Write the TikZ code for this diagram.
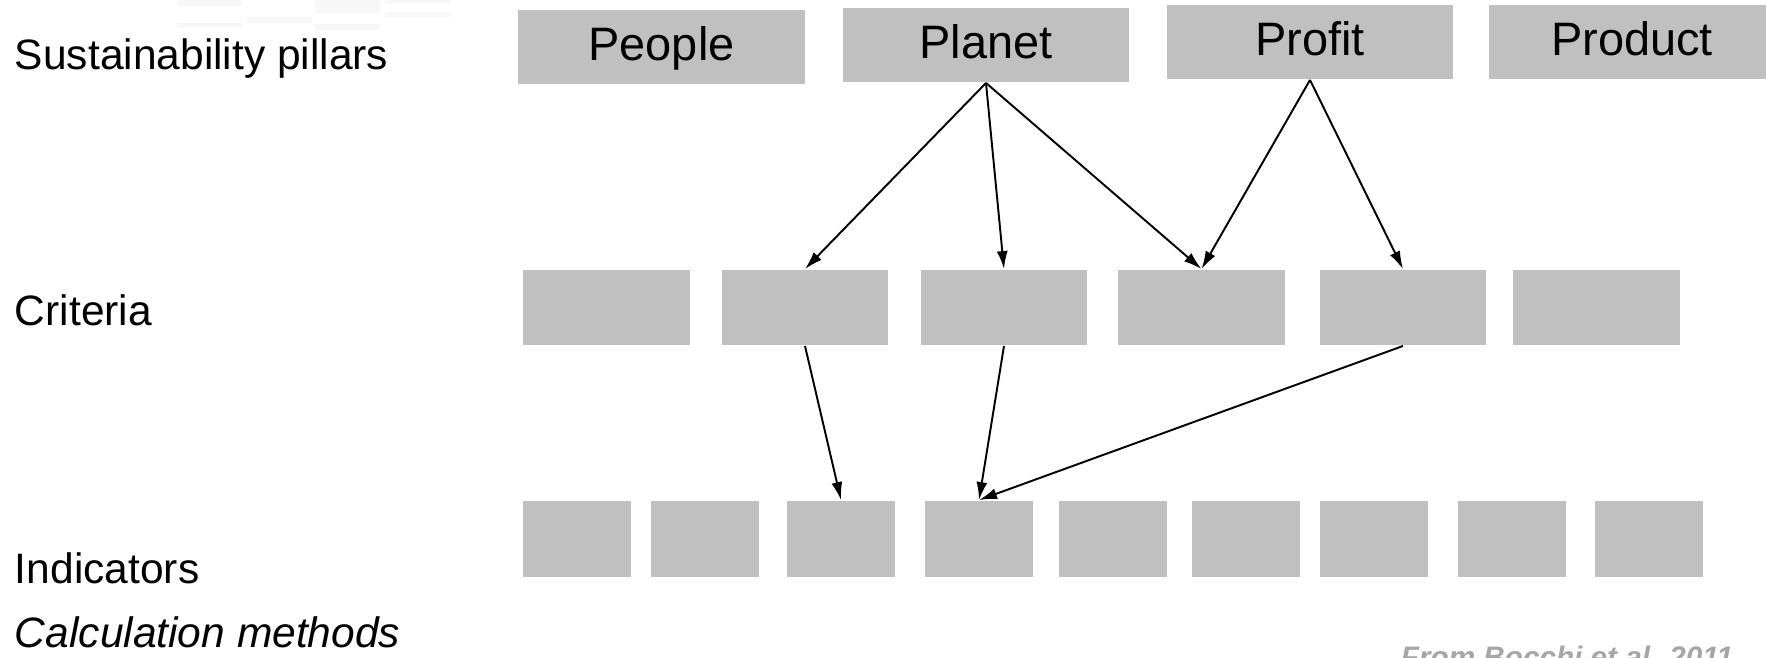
\documentclass[tikz,border=0pt]{standalone}
\usepackage{fontspec}
\setmainfont{Liberation Sans}
\usetikzlibrary{positioning,arrows.meta}
\definecolor{boxgray}{RGB}{192,192,192}
\definecolor{citegray}{RGB}{166,166,166}
\tikzstyle{pillar}=[fill=boxgray,minimum width=5.74cm,minimum height=1.48cm,
    font=\fontsize{26.7}{30}\selectfont,text height=19pt,text depth=4pt]
\tikzstyle{crit}=[fill=boxgray,minimum width=3.34cm,minimum height=1.5cm]
\tikzstyle{ind}=[fill=boxgray,minimum width=2.16cm,minimum height=1.52cm]
\tikzstyle{rowlabel}=[anchor=base west,inner sep=0pt,font=\fontsize{24.2}{28}\selectfont]
\newcommand{\newBox}[4]{\node[#3](#1) at (#4){#2};}
\newcommand{\newLink}[2]{\draw[->] (#1) -- (#2);}

\begin{document}
\begin{tikzpicture}[x=0.02cm,y=-0.02cm,
    >={Latex[length=3.6mm,width=2.2mm]},
    line width=1.1pt  %thin marks from the slide at top left
    ]
    \useasboundingbox (0,0) rectangle (1766,657);
    \fill[black!3] (177,0) rectangle (242,6) (177,23) rectangle (242,27)
        (247,17) rectangle (312,23) (315,0) rectangle (380,13)
        (315,24) rectangle (380,30) (385,0) rectangle (450,3)
        (385,12) rectangle (450,17);
    % pillars
    \newBox{people}{People}{pillar}{661.5,47}
    \newBox{planet}{Planet}{pillar}{986,45}
    \newBox{profit}{Profit}{pillar}{1310,42}
    \newBox{product}{Product}{pillar}{1632,42}
    % criteria and indicators
    \foreach \x [count=\i] in {606.5,805,1004,1201.5,1403,1596.5}
        \node[crit] (crit\i) at (\x,307.5) {};
    \foreach \x [count=\i] in {577,705,841,979,1113,1246,1374,1511.5,1649}
        \node[ind] (ind\i) at (\x,539) {};
    % row labels
    \node[rowlabel] (lpillars) at (14,69) {Sustainability pillars};
    \node[rowlabel] (lcrit) at (14,325) {Criteria};
    \node[rowlabel] (lind) at (14,583) {Indicators};
    \node[rowlabel,font=\fontsize{24.2}{28}\selectfont\itshape] (lcalc) at (14,647) {Calculation methods};
    \node[anchor=base west,inner sep=0pt,text=citegray,
        font=\fontsize{16.9}{20}\selectfont\bfseries\itshape] (source) at (1400,667) {From Bocchi et al. 2011};
    % links
    \newLink{planet.south}{crit2.north}
    \newLink{planet.south}{crit3.north}
    \newLink{planet.south}{crit4.north}
    \newLink{profit.south}{crit4.north}
    \newLink{profit.south}{crit5.north}
    \newLink{crit2.south}{ind3.north}
    \newLink{crit3.south}{ind4.north}
    \newLink{crit5.south}{ind4.north}
\end{tikzpicture}
\end{document}
